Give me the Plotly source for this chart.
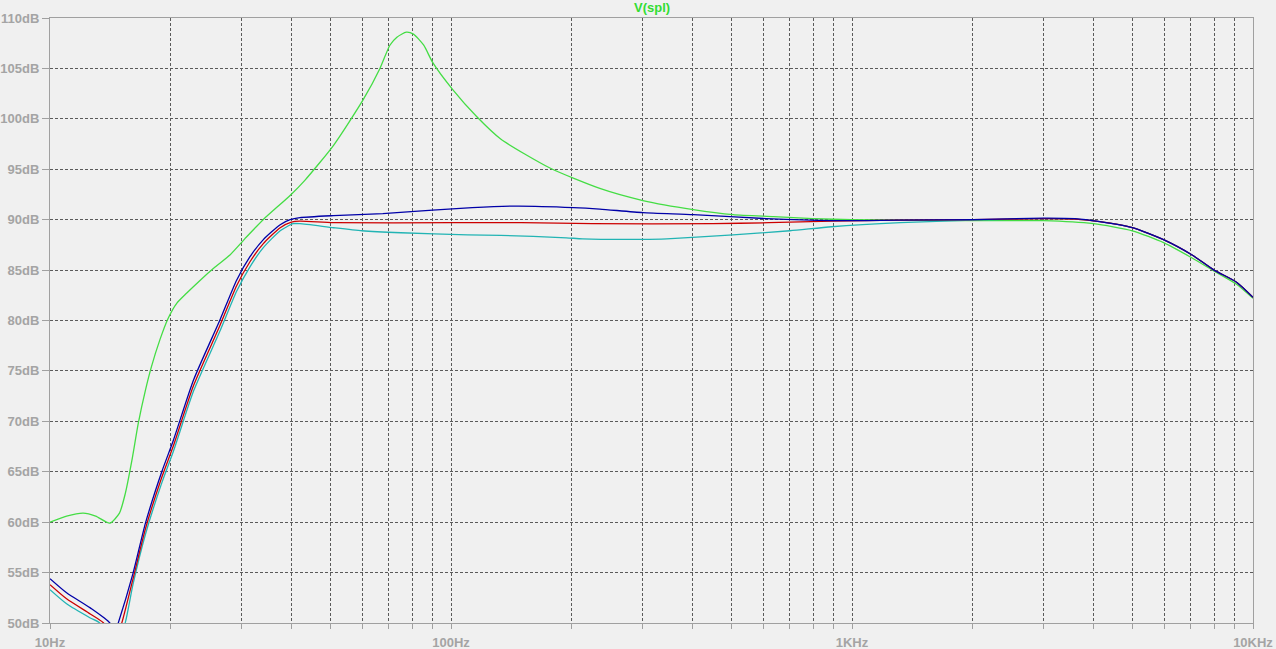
import plotly.graph_objects as go

# ---- data (frequency in Hz, level in dB) ----
blue_f = [10, 11, 12.6, 14.1, 14.45, 14.8, 16.1, 17.3, 19.0, 20.3, 22.8, 26.5, 29.2, 31.5, 34, 37.5, 39.7, 42, 50.9, 67.6, 90, 113, 146, 202, 235, 301, 402, 612, 890, 1300, 2000, 3000, 3600, 4150, 5000, 6000, 7050, 8000, 9100, 10000]
blue_db = [54.4, 53.0, 51.5, 50.0, 48.8, 50.0, 54.9, 59.9, 65.0, 68.1, 74.1, 80.0, 84.0, 86.3, 88.0, 89.5, 90.0, 90.2, 90.4, 90.6, 90.95, 91.2, 91.35, 91.2, 91.05, 90.7, 90.5, 90.1, 89.9, 89.95, 90.0, 90.15, 90.1, 89.8, 89.2, 88.0, 86.5, 85.0, 83.8, 82.3]

red_f = [10, 11, 12.6, 13.6, 14.4, 15.1, 16.1, 17.3, 19.0, 20.3, 22.8, 26.5, 29.2, 31.5, 34, 37.5, 40, 42, 51, 100, 150, 225, 450, 620, 890, 1300, 2000, 3000, 3600, 4150, 5000, 6000, 7050, 8000, 9100, 10000]
red_db = [53.8, 52.4, 50.9, 50.0, 47.8, 50.0, 54.35, 59.35, 64.45, 67.55, 73.55, 79.45, 83.45, 85.8, 87.6, 89.2, 89.75, 89.85, 89.7, 89.7, 89.7, 89.6, 89.6, 89.7, 89.85, 89.95, 90.0, 90.1, 90.05, 89.8, 89.2, 88.0, 86.5, 85.0, 83.8, 82.3]

cyan_f = [10, 11, 12.6, 13.3, 14.4, 15.4, 16.1, 17.3, 19.0, 20.3, 22.8, 26.5, 29.2, 31.5, 34, 37.5, 40.4, 42, 51, 60, 75, 110, 133, 194, 213, 300, 345, 505, 700, 890, 1320, 2000, 3000, 3600, 4150, 5000, 6000, 7050, 8000, 9100, 10000]
cyan_db = [53.3, 51.9, 50.5, 50.0, 46.8, 50.0, 53.8, 58.8, 63.9, 67.0, 73.0, 78.9, 82.9, 85.3, 87.2, 88.9, 89.6, 89.6, 89.2, 88.9, 88.7, 88.5, 88.45, 88.2, 88.1, 88.05, 88.1, 88.5, 88.9, 89.3, 89.7, 89.95, 90.1, 90.05, 89.8, 89.2, 88.0, 86.5, 85.0, 83.8, 82.3]

green_f = [10, 11, 12.1, 13, 14.1, 14.9, 15.4, 16.0, 16.6, 17.3, 17.9, 18.8, 19.7, 20.7, 21.9, 23.7, 25.8, 28.1, 30.6, 34, 39.7, 43.2, 51, 60.4, 66.5, 70.4, 73.3, 77.4, 80.6, 85.5, 90, 101, 116, 133, 177, 235, 301, 402, 505, 638, 800, 1000, 2000, 3000, 4000, 5000, 6000, 7050, 8000, 9100, 10000]
green_db = [60.0, 60.6, 60.9, 60.6, 59.9, 60.9, 62.8, 66.1, 69.8, 73.1, 75.4, 78.1, 80.2, 81.7, 82.7, 84.0, 85.3, 86.5, 88.1, 90.0, 92.4, 93.9, 97.4, 101.9, 105.0, 107.3, 108.1, 108.6, 108.4, 107.3, 105.6, 102.9, 100.2, 98.0, 95.1, 93.1, 91.9, 91.0, 90.5, 90.3, 90.1, 90.0, 89.9, 89.9, 89.6, 88.9, 87.7, 86.2, 84.9, 83.6, 82.2]

x_tickvals = [10, 20, 30, 40, 50, 60, 70, 80, 90,
              100, 200, 300, 400, 500, 600, 700, 800, 900,
              1000, 2000, 3000, 4000, 5000, 6000, 7000, 8000, 9000, 10000]
x_major = {10: "10Hz", 100: "100Hz", 1000: "1KHz", 10000: "10KHz"}
y_tickvals = [50, 55, 60, 65, 70, 75, 80, 85, 90, 95, 100, 105, 110]

title_text = "V(spl)"

# ---- figure ----
fig = go.Figure()
series = [
    (green_f, green_db, "#44dd44"),
    (cyan_f, cyan_db, "#22b4b4"),
    (red_f, red_db, "#cc0000"),
    (blue_f, blue_db, "#0000a8"),
]
for f, db, col in series:
    fig.add_trace(go.Scatter(x=f, y=db, mode="lines",
                             line=dict(color=col, width=1.3, shape="spline", smoothing=0.6),
                             showlegend=False, hoverinfo="skip"))

bg = "#f0f0f0"
labfont = dict(family="Liberation Sans", size=13, color="#a4a4a4", weight="bold")
fig.update_layout(
    width=1276, height=649,
    paper_bgcolor=bg, plot_bgcolor=bg,
    margin=dict(l=50, r=23, t=18, b=26, autoexpand=False),
    showlegend=False,
    annotations=[dict(text=title_text, x=0.5, xref="paper", y=1, yref="paper",
                      yanchor="bottom", yshift=1, showarrow=False,
                      font=dict(family="Liberation Sans", size=13, color="#33dd33", weight="bold"))],
)
fig.update_xaxes(
    type="log", range=[1, 4], automargin=False,
    tickvals=x_tickvals,
    ticktext=[x_major.get(v, "") for v in x_tickvals],
    ticks="outside", ticklen=5, tickcolor="#a0a0a0",
    showline=True, linecolor="#a0a0a0", linewidth=1, mirror=True,
    showgrid=True, gridcolor="#5a5a5a", griddash="3px,2px", gridwidth=1,
    tickfont=labfont, zeroline=False, ticklabelstandoff=2,
)
fig.update_yaxes(
    range=[50, 110], automargin=False,
    tickvals=y_tickvals,
    ticktext=[f"{v}dB" for v in y_tickvals],
    ticks="outside", ticklen=7, tickcolor="#a0a0a0",
    showline=True, linecolor="#a0a0a0", linewidth=1, mirror=True,
    showgrid=True, gridcolor="#5a5a5a", griddash="3px,2px", gridwidth=1,
    tickfont=labfont, zeroline=False, ticklabelstandoff=0,
)

fig.write_html("out.html", config={"displayModeBar": False},
               post_script="document.body.style.margin='0';document.body.style.overflow='hidden';")
